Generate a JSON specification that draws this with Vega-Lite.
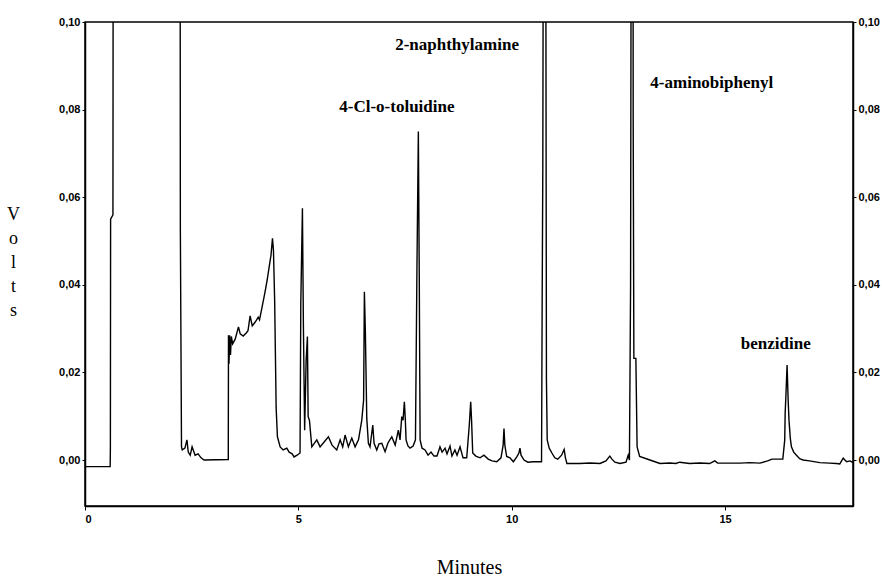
{
  "$schema": "https://vega.github.io/schema/vega-lite/v6.json",
  "width": 768,
  "height": 484,
  "autosize": "none",
  "padding": {"left": 85, "top": 22, "right": 29, "bottom": 72},
  "background": "white",
  "config": {
    "view": {"stroke": "black", "strokeWidth": 1.5},
    "font": "Liberation Sans",
    "axis": {
      "domainColor": "black", "domainWidth": 1.5, "tickColor": "black", "tickSize": 3,
      "labelColor": "black", "labelFont": "Liberation Sans", "labelFontSize": 11, "labelFontWeight": "bold", "labelPadding": 2,
      "grid": false
    }
  },
  "data": {"values": [
    {"t":0,"v":-0.0015},{"t":0.59,"v":-0.0015},{"t":0.595,"v":0.0027},{"t":0.60,"v":0.055},{"t":0.655,"v":0.056},{"t":0.66,"v":0.12},
    {"t":2.23,"v":0.12},{"t":2.235,"v":0.0525},{"t":2.262,"v":0.003},{"t":2.279,"v":0.0023},{"t":2.342,"v":0.0027},{"t":2.389,"v":0.0046},
    {"t":2.42,"v":0.0018},{"t":2.466,"v":0.0011},{"t":2.51,"v":0.003},{"t":2.58,"v":0.0011},{"t":2.65,"v":0.0014},{"t":2.72,"v":0.0005},
    {"t":2.79,"v":0.0},{"t":3.358,"v":0.0001},{"t":3.363,"v":0.0285},{"t":3.375,"v":0.022},{"t":3.39,"v":0.0285},{"t":3.41,"v":0.024},
    {"t":3.43,"v":0.0282},{"t":3.46,"v":0.0265},{"t":3.52,"v":0.0276},{"t":3.597,"v":0.0304},{"t":3.637,"v":0.0288},{"t":3.707,"v":0.0283},
    {"t":3.78,"v":0.029},{"t":3.82,"v":0.0295},{"t":3.87,"v":0.0329},{"t":3.92,"v":0.0306},{"t":3.99,"v":0.0315},{"t":4.06,"v":0.0326},
    {"t":4.09,"v":0.032},{"t":4.15,"v":0.0349},{"t":4.22,"v":0.0384},{"t":4.27,"v":0.0411},{"t":4.32,"v":0.0443},{"t":4.36,"v":0.0468},
    {"t":4.394,"v":0.0506},{"t":4.417,"v":0.0479},{"t":4.445,"v":0.0365},{"t":4.468,"v":0.0205},{"t":4.48,"v":0.0119},{"t":4.51,"v":0.0053},
    {"t":4.574,"v":0.003},{"t":4.644,"v":0.0023},{"t":4.73,"v":0.0027},{"t":4.785,"v":0.0018},{"t":4.855,"v":0.0014},{"t":4.90,"v":0.0007},
    {"t":4.97,"v":0.0011},{"t":5.04,"v":0.0016},{"t":5.058,"v":0.0361},{"t":5.096,"v":0.0575},{"t":5.119,"v":0.0304},{"t":5.148,"v":0.0068},
    {"t":5.183,"v":0.0228},{"t":5.213,"v":0.0282},{"t":5.23,"v":0.0099},{"t":5.26,"v":0.0091},{"t":5.316,"v":0.003},{"t":5.433,"v":0.0046},
    {"t":5.51,"v":0.003},{"t":5.604,"v":0.0041},{"t":5.705,"v":0.0053},{"t":5.79,"v":0.0034},{"t":5.90,"v":0.0023},{"t":5.98,"v":0.0046},
    {"t":6.04,"v":0.003},{"t":6.096,"v":0.0057},{"t":6.173,"v":0.003},{"t":6.253,"v":0.005},{"t":6.33,"v":0.003},{"t":6.41,"v":0.0046},
    {"t":6.487,"v":0.0091},{"t":6.53,"v":0.0137},{"t":6.548,"v":0.0384},{"t":6.571,"v":0.0293},{"t":6.604,"v":0.0095},{"t":6.642,"v":0.0038},
    {"t":6.68,"v":0.003},{"t":6.745,"v":0.008},{"t":6.775,"v":0.0038},{"t":6.838,"v":0.0023},{"t":6.89,"v":0.0037},{"t":6.956,"v":0.0038},
    {"t":7.033,"v":0.0019},{"t":7.10,"v":0.0039},{"t":7.19,"v":0.0053},{"t":7.27,"v":0.0034},{"t":7.344,"v":0.0068},{"t":7.384,"v":0.0046},
    {"t":7.424,"v":0.0099},{"t":7.455,"v":0.0091},{"t":7.485,"v":0.0133},{"t":7.506,"v":0.0096},{"t":7.525,"v":0.0046},{"t":7.57,"v":0.0032},
    {"t":7.618,"v":0.0027},{"t":7.69,"v":0.0032},{"t":7.745,"v":0.0046},{"t":7.78,"v":0.0438},{"t":7.813,"v":0.075},{"t":7.835,"v":0.0407},
    {"t":7.854,"v":0.0046},{"t":7.90,"v":0.0027},{"t":7.97,"v":0.0023},{"t":8.04,"v":0.0011},{"t":8.11,"v":0.0018},{"t":8.18,"v":0.0009},
    {"t":8.25,"v":0.0009},{"t":8.32,"v":0.003},{"t":8.37,"v":0.0018},{"t":8.44,"v":0.0027},{"t":8.485,"v":0.0014},{"t":8.555,"v":0.0032},
    {"t":8.60,"v":0.0009},{"t":8.67,"v":0.0023},{"t":8.72,"v":0.0011},{"t":8.79,"v":0.003},{"t":8.86,"v":0.0005},{"t":8.946,"v":0.0005},
    {"t":9.007,"v":0.008},{"t":9.04,"v":0.0133},{"t":9.06,"v":0.0091},{"t":9.087,"v":0.0016},{"t":9.16,"v":0.0009},{"t":9.26,"v":0.0005},
    {"t":9.35,"v":0.0011},{"t":9.45,"v":0.0002},{"t":9.54,"v":-0.0002},{"t":9.65,"v":-0.0004},{"t":9.75,"v":0.0005},{"t":9.80,"v":0.0034},
    {"t":9.82,"v":0.0072},{"t":9.84,"v":0.0034},{"t":9.883,"v":0.0008},{"t":9.96,"v":0.0005},{"t":10.04,"v":-0.0004},{"t":10.12,"v":0.0007},
    {"t":10.17,"v":0.0016},{"t":10.194,"v":0.0027},{"t":10.22,"v":0.0011},{"t":10.29,"v":0.0},{"t":10.38,"v":-0.0005},{"t":10.506,"v":-0.0004},
    {"t":10.616,"v":-0.0004},{"t":10.70,"v":-0.0004},{"t":10.715,"v":0.0365},{"t":10.73,"v":0.0666},{"t":10.74,"v":0.12},{"t":10.80,"v":0.12},
    {"t":10.815,"v":0.0183},{"t":10.833,"v":0.0046},{"t":10.88,"v":0.0027},{"t":10.943,"v":0.0016},{"t":11.01,"v":0.0005},{"t":11.08,"v":0.0002},
    {"t":11.17,"v":0.0011},{"t":11.23,"v":0.0024},{"t":11.26,"v":0.0005},{"t":11.295,"v":-0.0008},{"t":11.6,"v":-0.0008},{"t":11.83,"v":-0.0007},
    {"t":12.07,"v":-0.0008},{"t":12.21,"v":-0.0002},{"t":12.30,"v":0.0009},{"t":12.35,"v":0.0002},{"t":12.42,"v":-0.0005},{"t":12.54,"v":-0.0008},
    {"t":12.68,"v":-0.0005},{"t":12.73,"v":0.0011},{"t":12.76,"v":0.0},{"t":12.787,"v":0.0396},{"t":12.80,"v":0.12},{"t":12.845,"v":0.12},
    {"t":12.848,"v":0.0784},{"t":12.864,"v":0.0232},{"t":12.911,"v":0.0232},{"t":12.94,"v":0.003},{"t":13.0,"v":0.0008},{"t":13.24,"v":0.0},
    {"t":13.475,"v":-0.0008},{"t":13.71,"v":-0.0007},{"t":13.85,"v":-0.0008},{"t":13.94,"v":-0.0005},{"t":14.17,"v":-0.0008},{"t":14.41,"v":-0.0007},
    {"t":14.64,"v":-0.0008},{"t":14.76,"v":-0.0002},{"t":14.83,"v":-0.0007},{"t":15.0,"v":-0.0007},{"t":15.35,"v":-0.0007},{"t":15.58,"v":-0.0006},
    {"t":15.82,"v":-0.0007},{"t":16.0,"v":-0.0002},{"t":16.10,"v":0.0002},{"t":16.355,"v":0.0002},{"t":16.40,"v":0.0046},{"t":16.41,"v":0.0107},
    {"t":16.425,"v":0.0141},{"t":16.455,"v":0.0217},{"t":16.48,"v":0.0137},{"t":16.50,"v":0.0091},{"t":16.53,"v":0.005},{"t":16.557,"v":0.003},
    {"t":16.61,"v":0.0018},{"t":16.675,"v":0.0011},{"t":16.75,"v":0.0003},{"t":16.83,"v":0.0},{"t":16.98,"v":-0.0002},{"t":17.22,"v":-0.0006},
    {"t":17.45,"v":-0.0007},{"t":17.61,"v":-0.0008},{"t":17.69,"v":-0.0009},{"t":17.77,"v":0.0004},{"t":17.85,"v":-0.0004},{"t":17.93,"v":-0.0002},
    {"t":18.0,"v":-0.0006}
  ]},
  "encoding": {
    "x": {"field": "t", "type": "quantitative",
      "scale": {"domain": [0, 18], "nice": false, "zero": false},
      "axis": {"values": [0, 5, 10, 15], "labelExpr": "format(datum.value, 'd')", "tickSize": 4, "labelPadding": 3,
        "title": "Minutes", "titleFont": "Liberation Serif", "titleFontSize": 20, "titleFontWeight": "normal",
        "titleBaseline": "alphabetic", "titleY": 67, "titleColor": "black"}}
  },
  "layer": [
    {
      "mark": {"type": "line", "color": "black", "strokeWidth": 1.4, "clip": true},
      "encoding": {
        "y": {"field": "v", "type": "quantitative",
          "scale": {"domain": [-0.0105, 0.10], "nice": false, "zero": false},
          "axis": {"orient": "left", "values": [0, 0.02, 0.04, 0.06, 0.08, 0.10],
            "labelExpr": "replace(format(datum.value, '.2f'), '.', ',')",
            "title": ["V", "o", "l", "t", "s"], "titleAngle": 0, "titleFont": "Liberation Serif", "titleFontSize": 18,
            "titleFontWeight": "normal", "titleX": -72, "titleY": 183, "titleAlign": "center", "titleBaseline": "top",
            "titleLineHeight": 24, "titleColor": "black"}}
      }
    },
    {
      "mark": {"type": "line", "opacity": 0, "clip": true},
      "encoding": {
        "y": {"field": "v", "type": "quantitative",
          "axis": {"orient": "right", "values": [0, 0.02, 0.04, 0.06, 0.08, 0.10],
            "labelExpr": "replace(format(datum.value, '.2f'), '.', ',')", "title": null}}
      }
    },
    {
      "data": {"values": [
        {"t": 8.72, "v": 0.0947, "label": "2-naphthylamine"},
        {"t": 7.31, "v": 0.0806, "label": "4-Cl-o-toluidine"},
        {"t": 14.69, "v": 0.0861, "label": "4-aminobiphenyl"},
        {"t": 16.19, "v": 0.0265, "label": "benzidine"}
      ]},
      "mark": {"type": "text", "font": "Liberation Serif", "fontWeight": "bold", "fontSize": 17, "color": "black", "align": "center", "baseline": "middle"},
      "encoding": {
        "y": {"field": "v", "type": "quantitative", "axis": null},
        "text": {"field": "label"}
      }
    }
  ],
  "resolve": {"axis": {"y": "independent"}}
}
